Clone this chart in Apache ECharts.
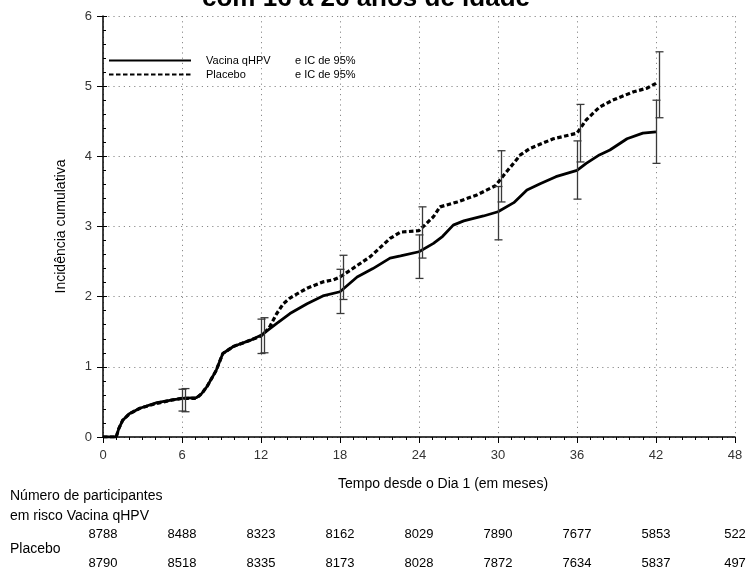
<!DOCTYPE html>
<html><head><meta charset="utf-8">
<script src="https://cdn.jsdelivr.net/npm/echarts@6/dist/echarts.min.js"></script>
<style>html,body{margin:0;padding:0;background:#fff}#c{width:749px;height:572px}</style>
</head><body><div id="c"></div>
<script>
const seriesNames = ['Vacina qHPV', 'Placebo'];
const xTicks = [0, 6, 12, 18, 24, 30, 36, 42, 48];
const vaccineCurve = [[0,0],[1.0,0],[1.2,0.12],[1.5,0.24],[2,0.33],[2.8,0.41],[4.1,0.49],[5.3,0.53],[6,0.55],[7.1,0.56],[7.5,0.62],[7.9,0.72],[8.6,0.95],[9.1,1.19],[9.9,1.29],[11.2,1.38],[12,1.45],[13.2,1.62],[14.2,1.76],[15.5,1.90],[16.7,2.01],[18,2.07],[19.3,2.28],[20.5,2.40],[21.8,2.55],[22.6,2.58],[24,2.64],[25.1,2.76],[25.8,2.86],[26.6,3.02],[27.4,3.08],[28.9,3.15],[30,3.21],[31.2,3.34],[32.2,3.52],[33.2,3.61],[34.4,3.71],[36,3.80],[36.7,3.90],[37.7,4.02],[38.5,4.09],[39.8,4.25],[41,4.33],[42,4.35]];
const placeboCurve = [[0,0],[1.0,0],[1.2,0.12],[1.5,0.24],[2,0.33],[2.8,0.41],[4.1,0.48],[5.3,0.53],[6,0.55],[7.1,0.55],[7.5,0.62],[7.9,0.72],[8.6,0.95],[9.1,1.19],[9.9,1.29],[11.2,1.38],[12,1.44],[12.6,1.55],[13.2,1.76],[13.7,1.90],[14.2,1.98],[15.5,2.12],[16.7,2.21],[17.5,2.24],[18,2.28],[18.8,2.38],[20.3,2.57],[21.8,2.83],[22.6,2.92],[24,2.94],[25.1,3.14],[25.6,3.28],[26.9,3.35],[28.4,3.45],[29.8,3.58],[30.3,3.70],[31.7,4.02],[32.4,4.11],[34.2,4.25],[36,4.33],[36.7,4.52],[37.7,4.70],[38.7,4.80],[40.3,4.92],[41.3,4.97],[42,5.04]];
// [month, lower, upper]
const vaccineCI = [[6,0.37,0.68],[12,1.19,1.68],[18,1.76,2.39],[24,2.26,2.88],[30,2.81,3.57],[36,3.39,4.22],[42,3.90,4.80]];
const placeboCI = [[6,0.36,0.69],[12,1.20,1.70],[18,1.96,2.59],[24,2.55,3.28],[30,3.35,4.08],[36,3.92,4.74],[42,4.55,5.49]];
const riskVaccine = ['8788','8488','8323','8162','8029','7890','7677','5853','522'];
const riskPlacebo = ['8790','8518','8335','8173','8028','7872','7634','5837','497'];
const titleText = 'com 16 a 26 anos de idade';
const xName = 'Tempo desde o Dia 1 (em meses)';
const yName = 'Incidência cumulativa';
const riskLabel1 = 'Número de participantes';
const riskLabel2 = 'em risco Vacina qHPV';
const riskLabel3 = 'Placebo';

const FONT = 'Liberation Sans, Arial, sans-serif';
const chart = echarts.init(document.getElementById('c'), null, {renderer: 'canvas'});

function ciRender(offset) {
  return function (params, api) {
    const x = api.value(0), lo = api.value(1), hi = api.value(2);
    const p1 = api.coord([x, lo]), p2 = api.coord([x, hi]);
    const cx = p1[0] + offset, w = 4;
    const st = {stroke: '#3a3a3a', lineWidth: 1.3};
    return {type: 'group', children: [
      {type: 'line', shape: {x1: cx, y1: p1[1], x2: cx, y2: p2[1]}, style: st},
      {type: 'line', shape: {x1: cx - w, y1: p1[1], x2: cx + w, y2: p1[1]}, style: st},
      {type: 'line', shape: {x1: cx - w, y1: p2[1], x2: cx + w, y2: p2[1]}, style: st}
    ]};
  };
}

const dotted = {color: '#8a8a8a', width: 1, type: [1.2, 4]};

chart.setOption({
  animation: false,
  textStyle: {fontFamily: FONT},
  grid: {left: 103, right: 14, top: 16, bottom: 135},
  legend: {
    data: seriesNames,
    orient: 'vertical', left: 108, top: 55, padding: 0,
    itemWidth: 82, itemHeight: 8, itemGap: 3,
    itemStyle: {color: 'rgba(0,0,0,0)', borderColor: 'rgba(0,0,0,0)', borderWidth: 0},
    formatter: n => `{a|${n}}{b|e IC de 95%}`,
    textStyle: {
      fontSize: 11, color: '#000', padding: [0, 0, 0, 10],
      rich: {a: {width: 89, fontSize: 11, color: '#000'}, b: {fontSize: 11, color: '#000'}}
    }
  },
  xAxis: {
    type: 'value', min: 0, max: 48, interval: 6,
    axisLine: {lineStyle: {color: '#000', width: 1.5}},
    axisTick: {length: 6, lineStyle: {color: '#000'}},
    minorTick: {show: true, splitNumber: 6, length: 3, lineStyle: {color: '#000'}},
    splitLine: {show: true, lineStyle: dotted},
    axisLabel: {color: '#333', fontSize: 13, margin: 12, fontFamily: FONT}
  },
  yAxis: [{
    type: 'value', min: 0, max: 6, interval: 1,
    axisLine: {show: true, lineStyle: {color: '#000', width: 1.5}},
    axisTick: {show: true, length: 6, lineStyle: {color: '#000'}},
    splitLine: {show: true, lineStyle: dotted},
    axisLabel: {color: '#333', fontSize: 13, margin: 11, fontFamily: FONT},
    name: yName, nameLocation: 'middle', nameGap: 35, nameRotate: 90,
    nameTextStyle: {fontSize: 14, color: '#000', fontFamily: FONT}
  }, {
    type: 'value', min: 0, max: 6, interval: 1, position: 'left',
    axisLine: {show: false},
    axisTick: {show: true, inside: true, length: 4, lineStyle: {color: '#000'}},
    minorTick: {show: true, splitNumber: 5, length: 3, lineStyle: {color: '#000'}},
    splitLine: {show: false},
    axisLabel: {show: false}
  }],
  series: [
    {name: seriesNames[0], type: 'line', data: vaccineCurve, symbol: 'none', z: 3,
     lineStyle: {color: '#000', width: 2.8}, itemStyle: {color: '#000'}},
    {name: seriesNames[1], type: 'line', data: placeboCurve, symbol: 'none', z: 3,
     lineStyle: {color: '#000', width: 3.2, type: [4.5, 2.5]}, itemStyle: {color: '#000'}},
    {name: 'IC vacina', type: 'custom', data: vaccineCI, renderItem: ciRender(0.5), encode: {x: 0, y: [1, 2]}, z: 4},
    {name: 'IC placebo', type: 'custom', data: placeboCI, renderItem: ciRender(3.5), encode: {x: 0, y: [1, 2]}, z: 4}
  ]
});

const graphics = [
  {type: 'text', style: {text: titleText, x: 366, y: 12, font: 'bold 26px ' + FONT, fill: '#000', textAlign: 'center', textVerticalAlign: 'bottom'}},
  {type: 'text', style: {text: xName, x: 443, y: 484, font: '14px ' + FONT, fill: '#000', textAlign: 'center', textVerticalAlign: 'middle'}},
  {type: 'text', style: {text: riskLabel1, x: 10, y: 496, font: '14px ' + FONT, fill: '#000', textAlign: 'left', textVerticalAlign: 'middle'}},
  {type: 'text', style: {text: riskLabel2, x: 10, y: 516, font: '14px ' + FONT, fill: '#000', textAlign: 'left', textVerticalAlign: 'middle'}},
  {type: 'text', style: {text: riskLabel3, x: 10, y: 549, font: '14px ' + FONT, fill: '#000', textAlign: 'left', textVerticalAlign: 'middle'}}
];
xTicks.forEach((t, i) => {
  const px = chart.convertToPixel({gridIndex: 0}, [t, 0])[0];
  graphics.push({type: 'text', style: {text: riskVaccine[i], x: px, y: 534, font: '13px ' + FONT, fill: '#000', textAlign: 'center', textVerticalAlign: 'middle'}});
  graphics.push({type: 'text', style: {text: riskPlacebo[i], x: px, y: 563, font: '13px ' + FONT, fill: '#000', textAlign: 'center', textVerticalAlign: 'middle'}});
});
chart.setOption({graphic: graphics});
</script></body></html>
